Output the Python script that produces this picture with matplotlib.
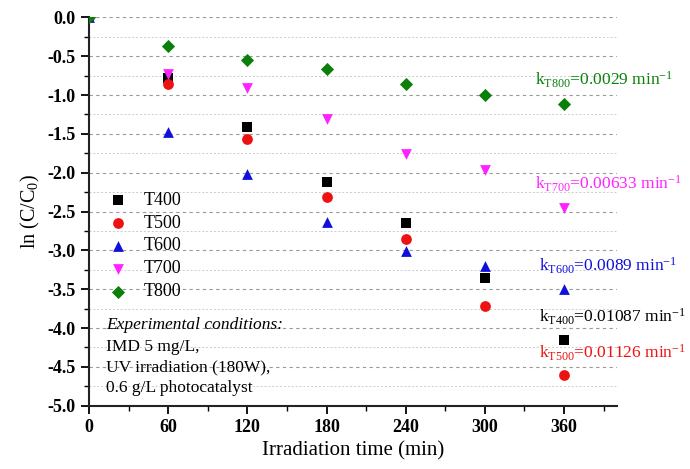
import matplotlib
matplotlib.use("Agg")
import matplotlib.pyplot as plt
from matplotlib.ticker import MultipleLocator

time = [0, 60, 120, 180, 240, 300, 360]
series_names = ["T400", "T500", "T600", "T700", "T800"]
t400 = [0, -0.78, -1.41, -2.12, -2.65, -3.36, -4.16]
t500 = [0, -0.86, -1.57, -2.31, -2.85, -3.72, -4.60]
t600 = [0, -1.48, -2.02, -2.63, -3.01, -3.20, -3.50]
t700 = [0, -0.73, -0.91, -1.31, -1.76, -1.97, -2.45]
t800 = [0, -0.37, -0.55, -0.66, -0.86, -1.00, -1.11]
k_labels = ["0.01087", "0.01126", "0.0089", "0.00633", "0.0029"]

colors = ["black", "#ee1111", "#1010dd", "#ff22ff", "#0a800a"]
markers = ["s", "o", "^", "v", "D"]
sizes = [45, 60, 60, 60, 45]

plt.rcParams['font.family'] = ['Liberation Serif', 'DejaVu Serif']
plt.rcParams['mathtext.fontset'] = 'custom'
plt.rcParams['mathtext.rm'] = 'Liberation Serif'
plt.rcParams['mathtext.it'] = 'Liberation Serif:italic'

fig = plt.figure(figsize=(6.9, 4.69), dpi=100)
ax = fig.add_axes([0.129, 0.135, 0.765, 0.828])

for name, ys, c, m, s in zip(series_names, [t400, t500, t600, t700, t800], colors, markers, sizes):
    ax.scatter(time, ys, marker=m, s=s, color=c, label=name, zorder=3, linewidths=0)

ax.set_xlim(0, 400)
ax.set_ylim(-5.0, 0.0)
ax.xaxis.set_major_locator(MultipleLocator(60))
ax.xaxis.set_minor_locator(MultipleLocator(30))
ax.yaxis.set_major_locator(MultipleLocator(0.5))
ax.yaxis.set_minor_locator(MultipleLocator(0.25))
ax.set_xticks([0, 60, 120, 180, 240, 300, 360])
yt = [0.0, -0.5, -1.0, -1.5, -2.0, -2.5, -3.0, -3.5, -4.0, -4.5, -5.0]
ax.set_yticks(yt)
ax.set_yticklabels([f"{v:.1f}" for v in yt])

ax.grid(axis='y', which='major', linestyle=(0, (3, 3)), color='#999999', linewidth=0.8)
ax.grid(axis='y', which='minor', linestyle=(0, (2, 2)), color='#cccccc', linewidth=0.7)
ax.set_axisbelow(True)

for sp in ['top', 'right']:
    ax.spines[sp].set_visible(False)
for sp in ['left', 'bottom']:
    ax.spines[sp].set_linewidth(1.5)
    ax.spines[sp].set_color('#222222')

ax.tick_params(which='major', direction='out', length=6, width=1.3, labelsize=13)
ax.tick_params(which='minor', direction='out', length=3.5, width=1.0)
for lab in ax.get_xticklabels() + ax.get_yticklabels():
    lab.set_fontweight('bold')

ax.set_xlabel("Irradiation time (min)", fontsize=15)
ax.set_ylabel(r"ln (C/C$_{\mathit{0}}$)", fontsize=14.5)

leg = ax.legend(loc='upper left', bbox_to_anchor=(0.025, 0.57), frameon=False, fontsize=13,
                handletextpad=0.9, labelspacing=0.33, borderaxespad=0.0, handlelength=1.0)

ax.text(0.032, 0.208, "Experimental conditions:", transform=ax.transAxes, fontsize=12.5,
        style='italic', va='center')
cond = ["IMD 5 mg/L,", "UV irradiation (180W),", "0.6 g/L photocatalyst"]
for i, line in enumerate(cond):
    ax.text(0.032, 0.152 - i * 0.053, line, transform=ax.transAxes, fontsize=12.5, va='center')

k_pos = [(341, -3.86), (341, -4.32), (341, -3.20), (338, -2.14), (338, -0.80)]
for name, k, c, (xp, yp) in zip(series_names, k_labels, colors, k_pos):
    ax.text(xp, yp, r"k$_{\mathrm{" + name + r"}}$=" + k + r" min$^{-1}$", color=c,
            fontsize=12.5, va='center', ha='left', clip_on=False)

fig.savefig("out.png", dpi=100)
